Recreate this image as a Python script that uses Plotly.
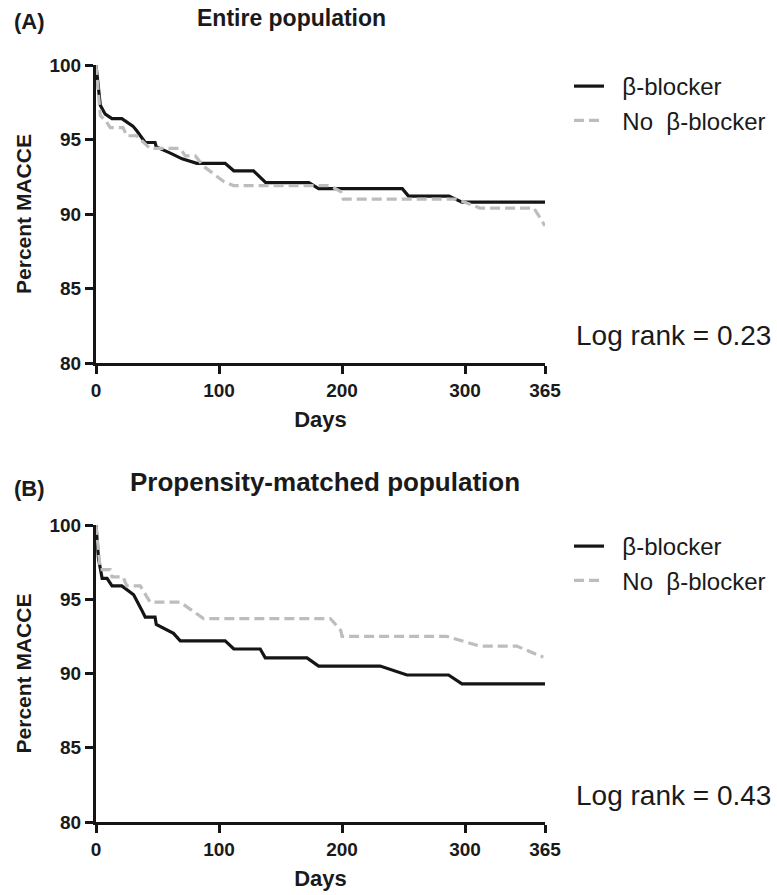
import plotly.graph_objects as go

# ---- data ----
days_a_bb = [0, 3.5, 7.5, 13, 21, 30, 33, 36, 40, 48, 49, 60, 70, 82, 105, 112, 128, 138, 173, 181, 249, 254, 287, 297.5, 365]
pct_a_bb = [100, 97.3, 96.7, 96.4, 96.4, 95.9, 95.6, 95.25, 94.8, 94.8, 94.5, 94.1, 93.7, 93.4, 93.4, 92.9, 92.9, 92.1, 92.1, 91.7, 91.7, 91.2, 91.2, 90.8, 90.8]

days_a_nobb = [0, 3.5, 7.5, 11.6, 22, 25, 33, 38.5, 44, 68.5, 72.6, 80.7, 87.5, 103.5, 112, 190, 199, 201, 293, 312, 356, 365]
pct_a_nobb = [100, 96.6, 96.3, 95.8, 95.8, 95.25, 95.25, 94.8, 94.4, 94.4, 93.9, 93.9, 93.2, 92.2, 91.9, 91.9, 91.5, 91.0, 91.0, 90.4, 90.4, 89.2]

days_b_bb = [0, 2, 5, 9, 13, 21, 30.6, 33, 37, 40, 48, 49, 63, 68.5, 105, 112, 133.5, 137.6, 171.5, 181, 231, 252.8, 286.6, 297.5, 365]
pct_b_bb = [100, 97.75, 96.4, 96.4, 95.9, 95.9, 95.3, 94.95, 94.3, 93.8, 93.8, 93.3, 92.7, 92.2, 92.2, 91.65, 91.65, 91.05, 91.05, 90.5, 90.5, 89.9, 89.9, 89.3, 89.3]

days_b_nobb = [0, 3.5, 11.6, 13, 22, 25, 36, 44, 68.5, 77, 87.5, 190.5, 199, 200, 285, 312, 342, 363.6]
pct_b_nobb = [100, 97.0, 97.0, 96.5, 96.5, 95.9, 95.9, 94.8, 94.8, 94.3, 93.7, 93.7, 92.9, 92.5, 92.5, 91.85, 91.85, 91.1]

x_ticks = [0, 100, 200, 300, 365]
y_ticks = [80, 85, 90, 95, 100]
series_names = ["\u00a0\u00a0β-blocker", "\u00a0\u00a0No\u00a0 β-blocker"]
panel_titles = ["Entire population", "Propensity-matched population"]
panel_tags = ["(A)", "(B)"]
log_ranks = ["Log rank = 0.23", "Log rank = 0.43"]

W, H = 777, 895
FONT = "Liberation Sans, Arial, sans-serif"
BLACK = "#151515"
GRAY = "#bdbdbd"
TXT = "#1a1a1a"

fig = go.Figure()

panels = [
    (days_a_bb, pct_a_bb, days_a_nobb, pct_a_nobb, "x", "y", "legend"),
    (days_b_bb, pct_b_bb, days_b_nobb, pct_b_nobb, "x2", "y2", "legend2"),
]
for i, (dx1, py1, dx2, py2, xa, ya, lg) in enumerate(panels):
    fig.add_trace(go.Scatter(x=dx1, y=py1, mode="lines", name=series_names[0],
                             line=dict(color=BLACK, width=3.2), xaxis=xa, yaxis=ya,
                             legend=lg, legendgroup=f"g{i}a", cliponaxis=False))
    fig.add_trace(go.Scatter(x=dx2, y=py2, mode="lines", name=series_names[1],
                             line=dict(color=GRAY, width=3.2, dash="10px,5px"), xaxis=xa, yaxis=ya,
                             legend=lg, legendgroup=f"g{i}b", cliponaxis=False))

def px_x(p):
    return p / W

def px_y(p):
    return 1 - p / H

xdom = [px_x(96), px_x(545)]
ydomA = [px_y(363), px_y(65)]
ydomB = [px_y(822), px_y(525)]

tickfont = dict(family=FONT, size=19, color=TXT, weight="bold")
titlefont = dict(family=FONT, size=22, color=TXT, weight="bold")

def xaxis(dom, anchor):
    return dict(domain=dom, anchor=anchor, range=[0, 365], tickvals=x_ticks, ticktext=[str(v) for v in x_ticks],
                showline=True, linewidth=3, linecolor=BLACK, ticks="outside", ticklen=8, tickwidth=2.5,
                tickcolor=BLACK, showgrid=False, zeroline=False, tickfont=tickfont, automargin=False,
                title=dict(text="Days", font=titlefont, standoff=12))

def yaxis(dom, anchor):
    return dict(domain=dom, anchor=anchor, range=[80, 100], tickvals=y_ticks,
                showline=True, linewidth=3, linecolor=BLACK, ticks="outside", ticklen=8, tickwidth=2.5,
                tickcolor=BLACK, showgrid=False, zeroline=False, tickfont=tickfont, automargin=False,
                title=dict(text="Percent MACCE", font=dict(family=FONT, size=21, color=TXT, weight="bold"), standoff=13))

legend_common = dict(font=dict(family=FONT, size=24, color=TXT), bgcolor="rgba(0,0,0,0)",
                     xanchor="left", yanchor="top", tracegroupgap=0, itemwidth=30)

annotations = []
tag_y = [22, 488]
title_y = [18, 482]
title_x = [291, 325]
title_size = [23, 26]
lr_y = [335, 795]
for i in range(2):
    annotations.append(dict(text=panel_tags[i], x=px_x(12), y=px_y(tag_y[i]), xref="paper", yref="paper",
                            xanchor="left", yanchor="middle", showarrow=False,
                            font=dict(family=FONT, size=22, color=TXT, weight="bold")))
    annotations.append(dict(text=panel_titles[i], x=px_x(title_x[i]), y=px_y(title_y[i]), xref="paper", yref="paper",
                            xanchor="center", yanchor="middle", showarrow=False,
                            font=dict(family=FONT, size=title_size[i], color=TXT, weight="bold")))
    annotations.append(dict(text=log_ranks[i], x=px_x(673), y=px_y(lr_y[i]), xref="paper", yref="paper",
                            xanchor="center", yanchor="middle", showarrow=False,
                            font=dict(family=FONT, size=28, color=TXT)))

fig.update_layout(
    width=W, height=H, margin=dict(l=0, r=0, t=0, b=0, autoexpand=False),
    paper_bgcolor="white", plot_bgcolor="white",
    xaxis=xaxis(xdom, "y"), yaxis=yaxis(ydomA, "x"),
    xaxis2=xaxis(xdom, "y2"), yaxis2=yaxis(ydomB, "x2"),
    legend=dict(x=px_x(569), y=px_y(64), **legend_common),
    legend2=dict(x=px_x(569), y=px_y(524), **legend_common),
    annotations=annotations,
    showlegend=True,
)

fig.write_html("out.html", config={"displayModeBar": False},
               post_script="document.body.style.margin='0px';document.body.style.overflow='hidden';")
